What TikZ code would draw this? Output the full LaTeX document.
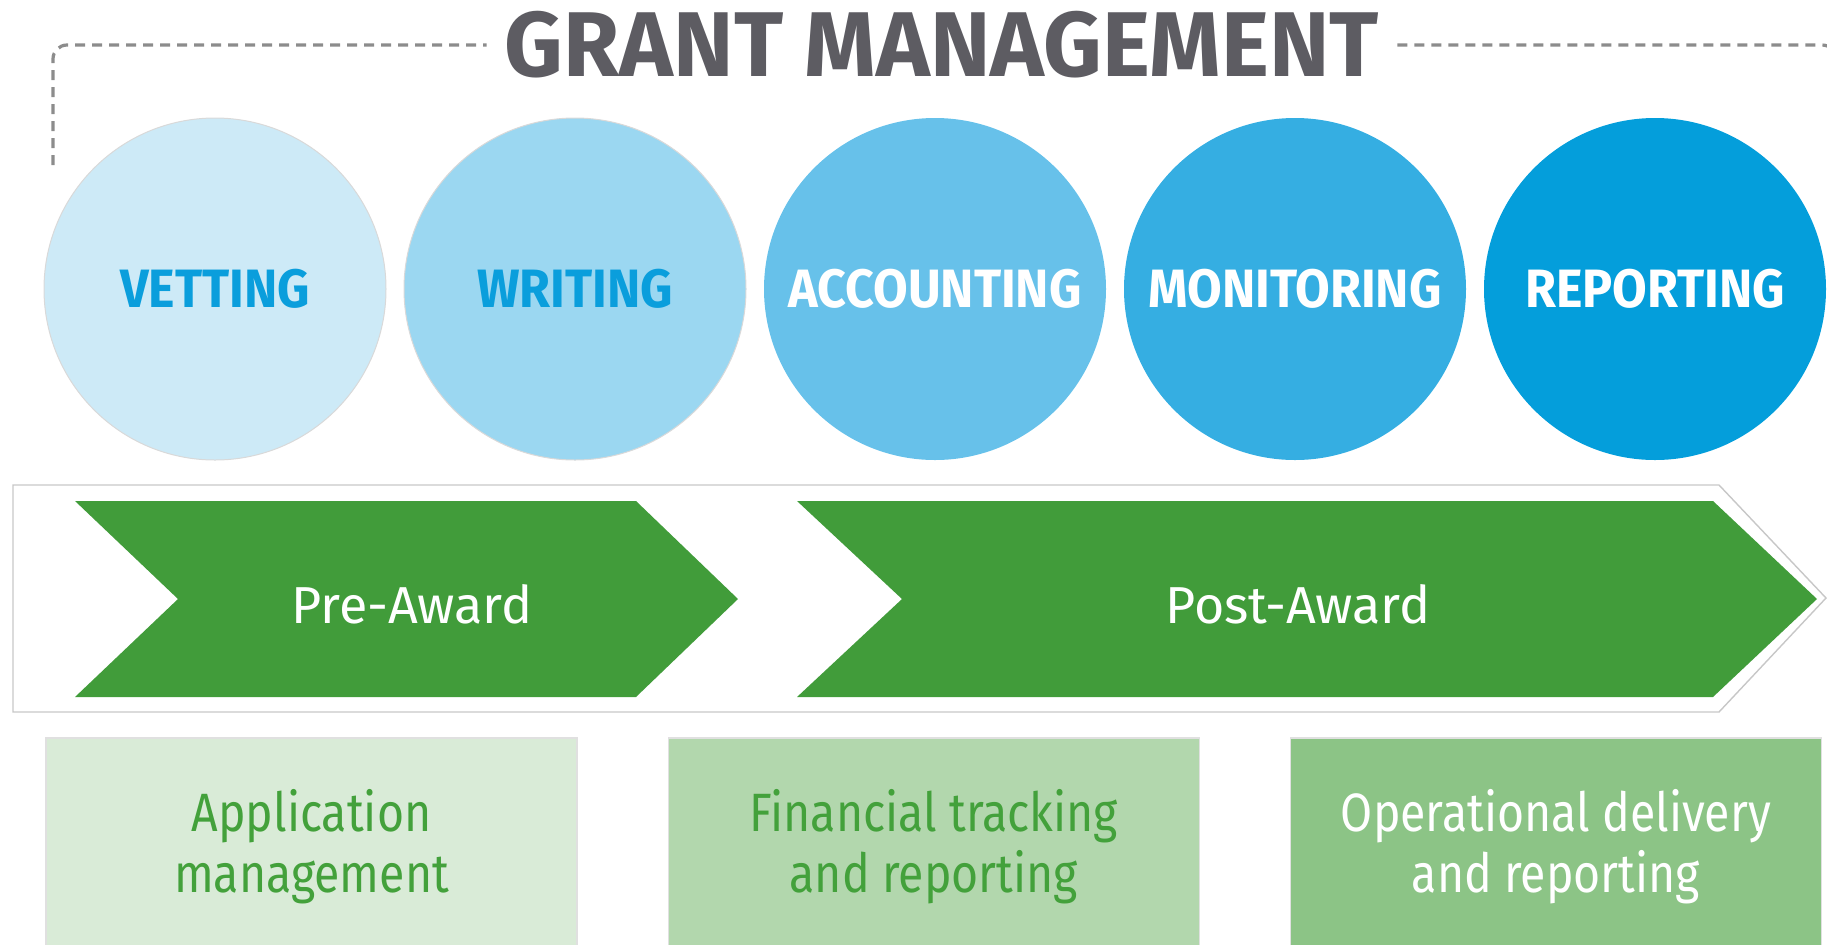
\documentclass[tikz,border=0pt]{standalone}
\usepackage{fontspec}
\setmainfont{Fira Sans}
\newfontfamily\titlefont{Fira Sans}[FakeStretch=0.99]
\newfontfamily\stagefont{Fira Sans}[FakeStretch=0.93]
\newfontfamily\taskfont{Fira Sans}[FakeStretch=0.86]
\usetikzlibrary{positioning}
\definecolor{stageA}{HTML}{cdeaf7}
\definecolor{stageB}{HTML}{9bd7f1}
\definecolor{stageC}{HTML}{67c1ea}
\definecolor{stageD}{HTML}{35aee2}
\definecolor{stageE}{HTML}{049edb}
\definecolor{stagetext}{HTML}{0a9edc}
\definecolor{arrowgreen}{HTML}{419c3a}
\definecolor{taskA}{HTML}{d9ebd7}
\definecolor{taskB}{HTML}{b2d7ad}
\definecolor{taskC}{HTML}{8cc486}
\definecolor{taskgreen}{HTML}{43a13b}
\definecolor{titlegray}{HTML}{5d5c62}
\definecolor{dashgray}{HTML}{8c8c8c}

\begin{document}
\begin{tikzpicture}[x=.5pt,y=-.5pt,
    stage/.style={circle,minimum size=171pt,inner sep=0pt,outer sep=0pt,
      font=\stagefont\fontsize{27}{30}\selectfont\bfseries,alias=tmp},
    light/.style={fill=#1,draw=black!15,line width=.5pt,text=stagetext},
    dark/.style={fill=#1,text=white},
    phase/.style={font=\fontsize{26}{30}\selectfont,text=white},
    task/.style={draw=black!12,line width=.6pt,align=center,
      minimum width=265.5pt,minimum height=108.5pt,
      font=\taskfont\fontsize{27}{30.5}\selectfont},
    bracket/.style={dashgray,line width=1.6pt,dash pattern=on 5pt off 3.5pt,
      rounded corners=7pt}]
 \clip (0,0) rectangle (1827,944);
 % title and the dashed bracket round the stages
 \node[font=\titlefont\fontsize{46}{50}\selectfont\bfseries,text=titlegray,
   inner xsep=9pt,inner ysep=0pt](title) at (942,45){GRANT MANAGEMENT};
 \draw[bracket] (53,165) |- (title.west);
 \draw[bracket] (title.east) -| (1836,165);
 % stages
 \path[nodes=stage]
   (215,289) node[light=stageA](vet){VETTING}
   node[light=stageB,right=9pt of tmp](wri){WRITING}
   node[dark=stageC,right=9pt of tmp](acc){ACCOUNTING}
   node[dark=stageD,right=9pt of tmp](mon){MONITORING}
   node[dark=stageE,right=9pt of tmp](rep){REPORTING};
 % award band
 \draw[black!22,line width=.7pt] (13,485) -- (1719,485) -- (1826,598)
   -- (1719,712) -- (13,712) -- cycle;
 \fill[arrowgreen] (75,501) -- (636,501) -- (738,599) -- (636,697)
   -- (75,697) -- (178,599) -- cycle;
 \fill[arrowgreen] (797,501) -- (1713,501) -- (1817,599) -- (1713,697)
   -- (797,697) -- (902,599) -- cycle;
 \node[phase](pre) at (412,604){Pre-Award};
 \node[phase](post) at (1298,604){Post-Award};
 % tasks under the band
 \node[task,fill=taskA,text=taskgreen](app) at (311.5,846.5){Application\\management};
 \node[task,fill=taskB,text=taskgreen,right=45pt of app](fin){Financial tracking\\and reporting};
 \node[task,fill=taskC,text=white,right=45pt of fin](ops){Operational delivery\\and reporting};
\end{tikzpicture}
\end{document}
